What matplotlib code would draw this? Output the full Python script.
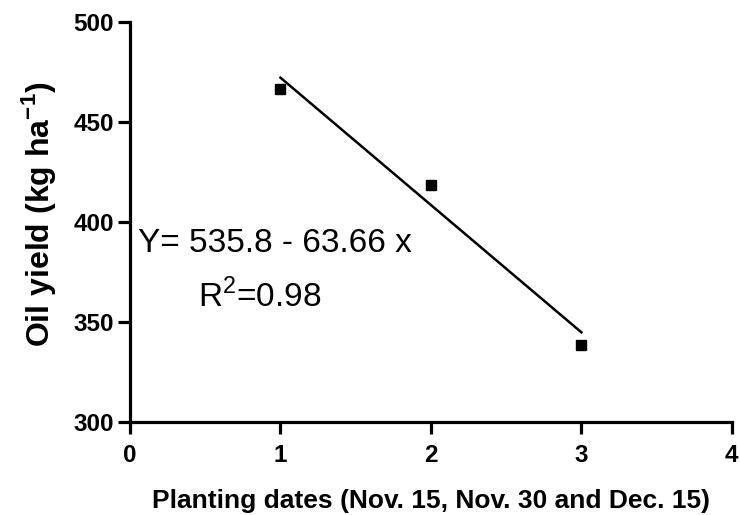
import numpy as np
import matplotlib.pyplot as plt

plt.rcParams['font.family'] = ['Liberation Sans', 'DejaVu Sans']
plt.rcParams['mathtext.fontset'] = 'custom'
plt.rcParams['mathtext.rm'] = 'Liberation Sans'
plt.rcParams['mathtext.bf'] = 'Liberation Sans:bold'

# data
dates = [1, 2, 3]
oil_yield = [466.5, 418.5, 338.5]
intercept = 535.8
slope = -63.66

fig = plt.figure(figsize=(7.4, 5.15), dpi=100)
ax = fig.add_axes([0.1757, 0.1806, 0.8133, 0.7767])

xfit = np.array([dates[0], dates[-1]])
ax.plot(xfit, intercept + slope * xfit, 'k', lw=1.8)
ax.plot(dates, oil_yield, 's', color='k', ms=6.5, clip_on=False)

ax.set_xlim(0, 4)
ax.set_ylim(300, 500)
ax.set_xticks([0, 1, 2, 3, 4])
ax.set_yticks([300, 350, 400, 450, 500])

for s in ['top', 'right']:
    ax.spines[s].set_visible(False)
for s in ['left', 'bottom']:
    ax.spines[s].set_linewidth(2.3)
ax.tick_params(width=2.3, length=8.5, labelsize=17.5)
ax.tick_params(axis='x', pad=7)
ax.tick_params(axis='y', pad=3)
for lab in ax.get_xticklabels() + ax.get_yticklabels():
    lab.set_fontweight('bold')

ax.set_xlabel('Planting dates (Nov. 15, Nov. 30 and Dec. 15)', fontsize=19,
              fontweight='bold', labelpad=16)
ax.set_ylabel(r'Oil yield (kg ha$^{\mathbf{-1}}$)', fontsize=23,
              fontweight='bold')
ax.yaxis.set_label_coords(-0.12, 0.52)

ax.text(0.05, 389, 'Y= 535.8 - 63.66 x', fontsize=24, va='center', ha='left')
ax.text(0.45, 362.5, r'R$^2$=0.98', fontsize=24, va='center', ha='left')

fig.savefig('out.png', dpi=100)
